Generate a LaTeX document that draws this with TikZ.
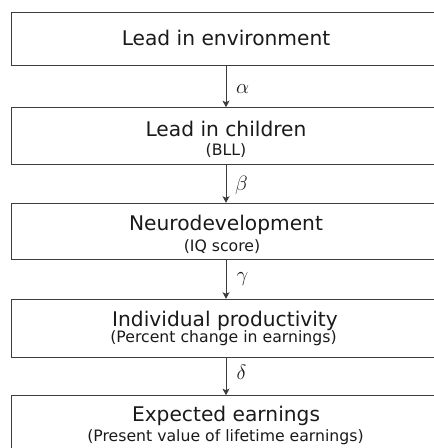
\documentclass[tikz,border=0pt]{standalone}
\usepackage{fontspec}
\setmainfont{DejaVu Sans}
\usetikzlibrary{arrows.meta}
\definecolor{linec}{HTML}{3C3C3C}
\definecolor{txtc}{HTML}{1A1A1A}
\begin{document}
\begin{tikzpicture}[x=1pt,y=1pt,
  box/.style={draw=linec,line width=1pt,minimum width=448.5pt,inner sep=0pt},
  maintxt/.style={font=\fontsize{20.2}{22}\selectfont,inner sep=0pt,text=txtc,anchor=base},
  subtxt/.style={font=\fontsize{15.7}{17}\selectfont,inner sep=0pt,text=txtc,anchor=base},
  glabel/.style={font=\fontsize{20.5}{22}\selectfont,inner sep=0pt,anchor=base west,text=txtc},
  conn/.style={draw=linec,line width=1pt,-{Stealth[length=6.5pt,width=7pt,inset=1.5pt]}}]
\useasboundingbox (0,0) rectangle (434,448);
\clip (0,0) rectangle (434,448);
% boxes (y measured in px from the top: y_tikz = 448 - y)
\node[box,minimum height=52.7pt] (b1) at (235.75,{448-39.35}) {};
\node[box,minimum height=56.6pt] (b2) at (235.75,{448-136}) {};
\node[box,minimum height=56.7pt] (b3) at (235.75,{448-231.65}) {};
\node[box,minimum height=58.4pt] (b4) at (235.75,{448-328.5}) {};
\node[box,minimum height=84.3pt] (b5) at (235.75,{448-437.85}) {};
% texts
\node[maintxt] (t1) at (226,{448-46}) {Lead in environment};
\node[maintxt] (t2) at (226,{448-136.5}) {Lead in children};
\node[subtxt] (s2) at (226,{448-155.5}) {(BLL)};
\node[maintxt] (t3) at (226,{448-231}) {Neurodevelopment};
\node[subtxt] (s3) at (222,{448-251.5}) {(IQ score)};
\node[maintxt] (t4) at (225,{448-326.5}) {Individual productivity};
\node[subtxt] (s4) at (223.5,{448-343}) {(Percent change in earnings)};
\node[maintxt] (t5) at (226,{448-421.5}) {Expected earnings};
\node[subtxt] (s5) at (225.5,{448-442}) {(Present value of lifetime earnings)};
% connectors
\coordinate (a1) at (226,0);
\draw[conn] (a1 |- b1.south) -- (a1 |- b2.north);
\draw[conn] (a1 |- b2.south) -- (a1 |- b3.north);
\draw[conn] (a1 |- b3.south) -- (a1 |- b4.north);
\draw[conn] (a1 |- b4.south) -- (a1 |- b5.north);
% greek labels
\node[glabel] (g1) at (236,{448-93.3}) {$\alpha$};
\node[glabel] (g2) at (235,{448-191}) {$\beta$};
\node[glabel] (g3) at (236.5,{448-282}) {$\gamma$};
\node[glabel] (g4) at (236.5,{448-379.5}) {$\delta$};
\end{tikzpicture}
\end{document}
